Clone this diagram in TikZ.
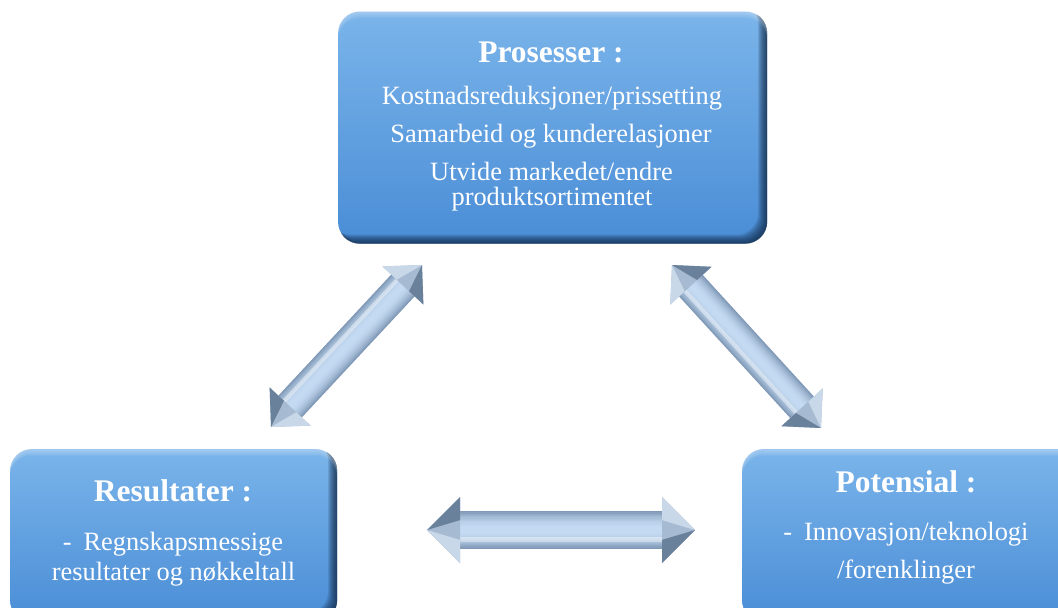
\documentclass[tikz,border=0pt]{standalone}
\usepackage{fontspec}
\setmainfont{Liberation Serif}
\usetikzlibrary{calc}

\definecolor{boxtop}{HTML}{7AB4EA}
\definecolor{boxbot}{HTML}{4A8DD6}
\definecolor{rim}{HTML}{0F2440}
\definecolor{arrowedge}{HTML}{7F98B6}
\definecolor{arrowlight}{HTML}{C4DAF2}
\definecolor{headmid}{HTML}{A6BAD1}
\definecolor{headhi}{HTML}{C9D8E9}
\definecolor{headlo}{HTML}{6A819C}

\tikzset{
  panel/.style={rectangle, rounded corners=22pt, top color=boxtop,
    bottom color=boxbot, draw=none, inner sep=0pt},
  heading/.style={text=white, font=\fontsize{31.5}{34}\selectfont\bfseries,
    anchor=base, inner sep=0pt},
  txt/.style={text=white, font=\fontsize{26.4}{28}\selectfont,
    anchor=base, inner sep=0pt},
}

% dark inner rim along the lower/right edges and a soft top highlight
\newcommand\panelfx[1]{%
  \begin{scope}
    \clip[rounded corners=22pt] (#1.south west) rectangle (#1.north east);
    \foreach \k in {1,...,9}{
      \fill[rim, opacity=0.13, even odd rule] (-50,-50) rectangle (1150,700)
        [rounded corners=22pt] ($(#1.south west)+(-\k,-\k)$) rectangle ($(#1.north east)+(-\k,-\k)$);
    }
    \foreach \k in {2,...,7}{
      \fill[white, opacity=0.06, even odd rule] (-50,-50) rectangle (1150,700)
        [rounded corners=22pt] ($(#1.south west)+(0,\k)$) rectangle ($(#1.north east)+(0,\k)$);
    }
  \end{scope}}

% bevelled arrow head: tip, base centre, head half width
\newcommand\bevelhead[3]{%
  \coordinate (c1) at ($(#2)!#3pt!90:(#1)$);
  \coordinate (c2) at ($(#2)!#3pt!-90:(#1)$);
  \coordinate (m1) at ($(#2)!0.3*#3pt!90:(#1)$);
  \coordinate (m2) at ($(#2)!0.3*#3pt!-90:(#1)$);
  \fill[headmid] (#1) -- (c1) -- (c2) -- cycle;
  \fill[headhi] (#1) -- (c1) -- (m1) -- cycle;
  \fill[headlo] (#1) -- (c2) -- (m2) -- cycle;}
% double arrow: tip #1, tip #2, head length, head half width, body half width
\newcommand\bevelarrow[5]{%
  \coordinate (ha) at ($(#1)!#3pt!(#2)$);
  \coordinate (hb) at ($(#2)!#3pt!(#1)$);
  \foreach \i in {0,...,14}{
    \pgfmathsetmacro\strokew{2*#5*(1-\i/15)}
    \pgfmathsetmacro\shadepct{100*(1-(1-\i/14)^2)}
    \draw[line width=\strokew pt, color=arrowlight!\shadepct!arrowedge] (ha) -- (hb);
  }
  \draw[line width=0.25*#5pt, white, opacity=0.4]
    ($(ha)!0.5*#5pt!-90:(hb)$) -- ($(hb)!0.5*#5pt!90:(ha)$);
  \bevelhead{#1}{ha}{#4}
  \bevelhead{#2}{hb}{#4}}

\begin{document}
\begin{tikzpicture}[x=1pt, y=-1pt]
  \useasboundingbox (0,0) rectangle (1058,608);
  \clip (0,0) rectangle (1058,608);

  % panels
  \node[panel, minimum width=429pt, minimum height=232pt] (proc) at (552.5,127.5) {};
  \panelfx{proc}
  \node[panel, minimum width=327pt, minimum height=173pt] (res) at (173.5,535.5) {};
  \panelfx{res}
  \node[panel, minimum width=338pt, minimum height=173pt] (pot) at (911,535.5) {};
  \panelfx{pot}

  % panel texts
  \node[heading] (procT) at (551,62) {Prosesser :};
  \node[txt] (p1) at (552,104) {Kostnadsreduksjoner/prissetting};
  \node[txt] (p2) at (551,142) {Samarbeid og kunderelasjoner};
  \node[txt] (p3) at (551.5,180) {Utvide markedet/endre};
  \node[txt] (p4) at (552,205) {produktsortimentet};

  \node[heading] (resT) at (173,501) {Resultater :};
  \node[txt] (r1) at (173,550) {-\hspace{0.45em}Regnskapsmessige};
  \node[txt] (r2) at (173.5,580) {resultater og nøkkeltall};

  \node[heading] (potT) at (906,492) {Potensial :};
  \node[txt] (q1) at (906,540) {-\hspace{0.45em}Innovasjon/teknologi};
  \node[txt] (q2) at (906,578) {/forenklinger};

  % arrow end points
  \coordinate (aP) at (422,265);
  \coordinate (aR) at (271,427);
  \coordinate (bP) at (672,265);
  \coordinate (bQ) at (821,428);
  \coordinate (cR) at (427,530);
  \coordinate (cQ) at (695,530);

  \bevelarrow{aP}{aR}{28}{28}{16}
  \bevelarrow{bP}{bQ}{28}{28}{16}
  \bevelarrow{cR}{cQ}{33}{33}{19}
\end{tikzpicture}
\end{document}
